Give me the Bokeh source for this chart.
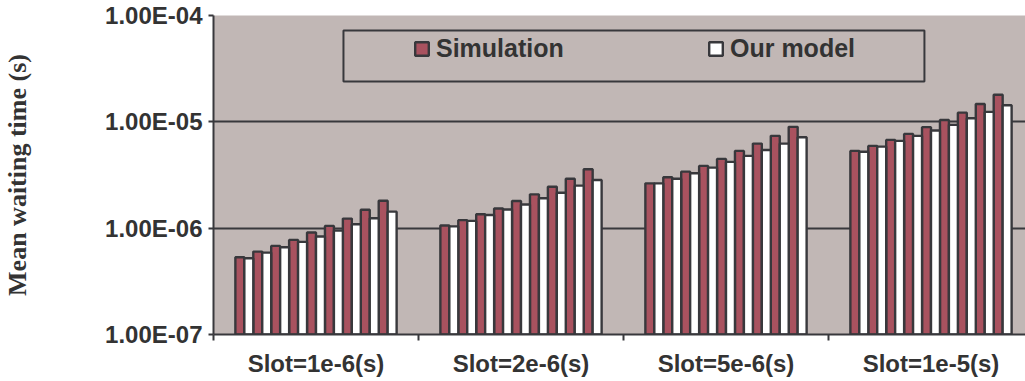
from bokeh.plotting import figure
from bokeh.models import (FixedTicker, CustomJSTickFormatter, Legend, LegendItem,
                          BoxAnnotation, ColumnDataSource, Range1d)
from bokeh.embed import file_html
from bokeh.resources import INLINE

# ---------------- data ----------------
categories = ["Slot=1e-6(s)", "Slot=2e-6(s)", "Slot=5e-6(s)", "Slot=1e-5(s)"]
series_names = ["Simulation", "Our model"]
y_title = "Mean waiting time (s)"

sim_1e6 = [5.33e-7, 6.02e-7, 6.81e-7, 7.76e-7, 9.09e-7, 1.05e-6, 1.23e-6, 1.49e-6, 1.81e-6]
model_1e6 = [5.22e-7, 5.89e-7, 6.62e-7, 7.43e-7, 8.34e-7, 9.49e-7, 1.09e-6, 1.24e-6, 1.43e-6]
sim_2e6 = [1.06e-6, 1.19e-6, 1.35e-6, 1.53e-6, 1.80e-6, 2.08e-6, 2.45e-6, 2.92e-6, 3.58e-6]
model_2e6 = [1.04e-6, 1.17e-6, 1.33e-6, 1.50e-6, 1.67e-6, 1.91e-6, 2.15e-6, 2.51e-6, 2.84e-6]
sim_5e6 = [2.64e-6, 3.01e-6, 3.40e-6, 3.85e-6, 4.48e-6, 5.33e-6, 6.24e-6, 7.38e-6, 8.97e-6]
model_5e6 = [2.64e-6, 2.92e-6, 3.28e-6, 3.71e-6, 4.20e-6, 4.78e-6, 5.44e-6, 6.24e-6, 7.17e-6]
sim_1e5 = [5.33e-6, 5.94e-6, 6.76e-6, 7.70e-6, 8.91e-6, 1.04e-5, 1.22e-5, 1.47e-5, 1.80e-5]
model_1e5 = [5.24e-6, 5.85e-6, 6.62e-6, 7.38e-6, 8.28e-6, 9.37e-6, 1.08e-5, 1.24e-5, 1.43e-5]

y_ticks = [1e-7, 1e-6, 1e-5, 1e-4]

sim_groups = [sim_1e6, sim_2e6, sim_5e6, sim_1e5]
model_groups = [model_1e6, model_2e6, model_5e6, model_1e5]

# ---------------- style ----------------
DARK = "#38383c"
RED = "#a9525f"
BG = "#c1b7b5"
BAR_W = 0.0437

y_start, y_end = y_ticks[0], y_ticks[-1]

sim_x, sim_y, mod_x, mod_y = [], [], [], []
for gi, (sg, mg) in enumerate(zip(sim_groups, model_groups)):
    n = len(sg)
    center = gi + 0.5
    for j in range(n):
        sim_x.append(center + (2 * j - n + 0.5) * BAR_W)
        sim_y.append(sg[j])
        mod_x.append(center + (2 * j - n + 1.5) * BAR_W)
        mod_y.append(mg[j])

src_sim = ColumnDataSource(dict(x=sim_x, top=sim_y))
src_mod = ColumnDataSource(dict(x=mod_x, top=mod_y))

p = figure(width=1025, height=381, y_axis_type="log",
           x_range=Range1d(0, 3.961), y_range=Range1d(y_start, y_end),
           output_backend="svg", toolbar_location=None,
           min_border_left=213, min_border_right=0, min_border_top=15,
           min_border_bottom=47)
p.background_fill_color = BG
p.border_fill_color = "white"
p.outline_line_color = None

r_sim = p.vbar(x="x", top="top", bottom=y_start, width=BAR_W, source=src_sim,
               fill_color=RED, line_color=DARK, line_width=2.4)
r_mod = p.vbar(x="x", top="top", bottom=y_start, width=BAR_W, source=src_mod,
               fill_color="white", line_color=DARK, line_width=2.4)

# grid
p.xgrid.visible = False
p.ygrid.grid_line_color = DARK
p.ygrid.grid_line_width = 2

# y axis
ya = p.yaxis[0]
ya.ticker = FixedTicker(ticks=y_ticks)
ya.formatter = CustomJSTickFormatter(code="""
const e = Math.round(Math.log10(tick));
const m = tick / Math.pow(10, e);
const s = e < 0 ? '-' : '+';
return m.toFixed(2) + 'E' + s + String(Math.abs(e)).padStart(2, '0');
""")
ya.minor_tick_line_color = None
ya.major_tick_out = 5
ya.major_tick_in = 0
ya.major_tick_line_color = DARK
ya.major_tick_line_width = 2
ya.axis_line_color = DARK
ya.axis_line_width = 2
ya.major_label_standoff = 6
ya.major_label_text_font = "Liberation Sans"
ya.major_label_text_font_style = "bold"
ya.major_label_text_font_size = "24px"
ya.major_label_text_color = "#333333"
ya.axis_label = y_title
ya.axis_label_standoff = 70
ya.axis_label_text_font = "Liberation Serif"
ya.axis_label_text_font_style = "bold"
ya.axis_label_text_font_size = "26px"
ya.axis_label_text_color = "#333333"

# x axis
xa = p.xaxis[0]
xa.ticker = FixedTicker(ticks=[i + 0.5 for i in range(len(categories))],
                        minor_ticks=[float(i) for i in range(len(categories) + 1)])
xa.formatter = CustomJSTickFormatter(args=dict(labels=categories),
                                     code="return labels[Math.floor(tick)] || '';")
xa.major_tick_line_color = None
xa.major_tick_out = 0
xa.major_tick_in = 0
xa.minor_tick_out = 6
xa.minor_tick_in = 0
xa.minor_tick_line_color = DARK
xa.minor_tick_line_width = 2
xa.axis_line_color = DARK
xa.axis_line_width = 2
xa.major_label_standoff = 9
xa.major_label_text_font = "Liberation Sans"
xa.major_label_text_font_style = "bold"
xa.major_label_text_font_size = "24px"
xa.major_label_text_color = "#333333"

# legend box
box = BoxAnnotation(left=0.634, right=3.468, bottom=2.39e-5, top=7.22e-5,
                    fill_alpha=0, line_color=DARK, line_width=2, line_alpha=1)
p.add_layout(box)

legend = Legend(items=[LegendItem(label=series_names[0], renderers=[r_sim]),
                       LegendItem(label=series_names[1], renderers=[r_mod])],
                orientation="horizontal", location=(200, 271),
                padding=0, margin=0, spacing=131,
                glyph_width=17, glyph_height=17, label_width=140,
                label_height=17, label_standoff=6,
                border_line_color=None, background_fill_alpha=0)
legend.label_text_font = "Liberation Sans"
legend.label_text_font_style = "bold"
legend.label_text_font_size = "25px"
legend.label_text_color = "#333333"
p.add_layout(legend, "center")

open("out.html", "w").write(file_html(p, INLINE))
